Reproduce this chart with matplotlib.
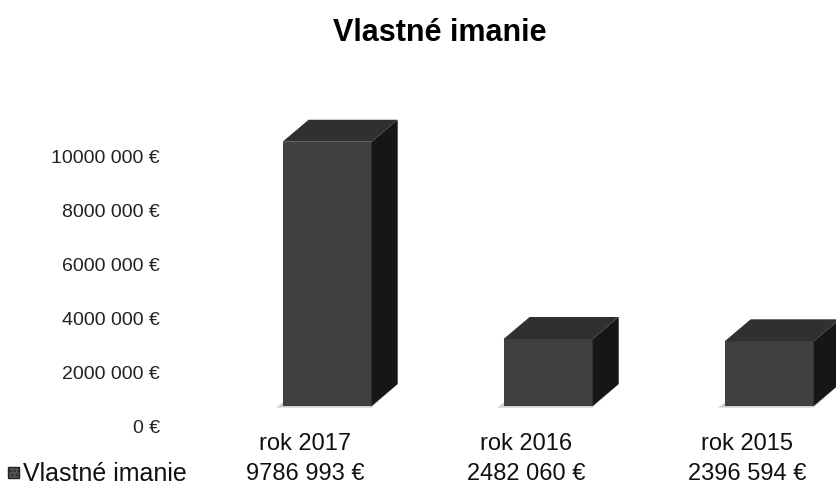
import matplotlib
matplotlib.use('Agg')
import matplotlib.pyplot as plt
from matplotlib.patches import Polygon, Rectangle
import matplotlib.transforms as mtransforms

## chart data
categories = ['rok 2017', 'rok 2016', 'rok 2015']
values = [9786993, 2482060, 2396594]
series_name = 'Vlastné imanie'
yticks = [0, 2000000, 4000000, 6000000, 8000000, 10000000]

plt.rcParams['font.family'] = ['Liberation Sans', 'DejaVu Sans']


def eur(v):
    v = int(v)
    if v < 1000:
        return '%d €' % v
    return '%d %03d €' % (v // 1000, v % 1000)


fig = plt.figure(figsize=(8.37, 4.89), dpi=100)
ax = fig.add_axes([175 / 837, 62 / 489, 662 / 837, 317 / 489])
ax.set_xlim(-0.588, 2.407)
ax.set_ylim(0, 11740000)

## 3d look: front face shifted forward, depth to the upper right
w = 0.403      # front face width
shift = 0.10   # front face centre vs category label
lift = 740000  # floor of the front face above the 0 line
dx = 0.118
dy = 815000

for i, v in enumerate(values):
    x0 = i + shift - w / 2
    x1 = x0 + w
    y0 = lift
    y1 = lift + v
    # floor shadow
    ax.add_patch(Polygon([(x0 - 0.03, y0 - 60000), (x1, y0 - 60000), (x1 + dx, y0 + dy), (x0 + dx, y0 + dy)],
                         closed=True, facecolor='#cfcfcf', edgecolor='none', zorder=1))
    ax.add_patch(Rectangle((x0, y0), w, v, facecolor='#404040', edgecolor='none', zorder=3))
    ax.add_patch(Polygon([(x1, y0), (x1 + dx, y0 + dy), (x1 + dx, y1 + dy), (x1, y1)],
                         closed=True, facecolor='#161616', edgecolor='none', zorder=3))
    ax.add_patch(Polygon([(x0, y1), (x1, y1), (x1 + dx, y1 + dy), (x0 + dx, y1 + dy)],
                         closed=True, facecolor='#303030', edgecolor='none', zorder=3))

ax.set_yticks(yticks)
ax.set_yticklabels([eur(t) for t in yticks], fontsize=14, color='#222222')
ax.tick_params(axis='y', length=0, pad=11)
ax.set_xticks(range(len(categories)))
ax.set_xticklabels(categories, fontsize=17, color='#111111')
ax.tick_params(axis='x', length=0, pad=4)
for s in ax.spines.values():
    s.set_visible(False)

## data table row under the categories
trans = mtransforms.blended_transform_factory(ax.transData, fig.transFigure)
for i, v in enumerate(values):
    ax.text(i, 1 - 474 / 489, eur(v), transform=trans, ha='center', va='center',
            fontsize=17, color='#111111')
fig.patches.append(Rectangle((8 / 837, 1 - 479 / 489), 11 / 837, 11 / 489,
                             transform=fig.transFigure, facecolor='#555555',
                             edgecolor='#222222', hatch='....'))
fig.text(23 / 837, 1 - 474 / 489, series_name, ha='left', va='center',
         fontsize=18, color='#111111')

fig.text(440 / 837, 1 - 33 / 489, 'Vlastné imanie', ha='center', va='center',
         fontsize=22, fontweight='bold')

fig.savefig('out.png', dpi=100)
